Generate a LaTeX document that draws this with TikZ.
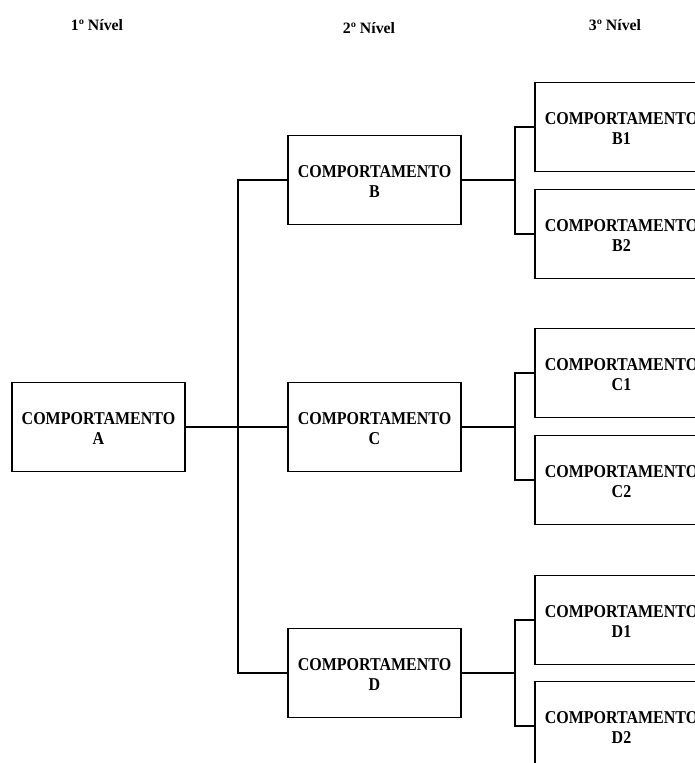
\documentclass[tikz,border=0pt]{standalone}
\usepackage{fontspec}
\usepackage{graphicx}
\setmainfont{Liberation Serif}
\newcommand{\boxtext}[2]{\raisebox{-3.3pt}[\height][\depth]{\scalebox{1}[1.13]{\fontsize{16pt}{17.7pt}\selectfont\bfseries\begin{tabular}{@{}c@{}}#1\\#2\end{tabular}}}}
\begin{document}
\begin{tikzpicture}[x=1pt,y=-1pt,
  box/.style={draw=black,line width=1.8pt,minimum width=173pt,minimum height=89pt,inner sep=0pt,align=center},
  head/.style={font=\fontsize{15.8pt}{17pt}\selectfont\bfseries,inner sep=0pt},
  conn/.style={draw=black,line width=2pt}]
\useasboundingbox (0,0) rectangle (695,763);
\clip (0,0) rectangle (695,763);
% headers
\node[head] (h1) at (97,25) {1º Nível};
\node[head] (h2) at (369,28) {2º Nível};
\node[head] (h3) at (615,25) {3º Nível};
% level 1
\node[box] (A) at (98.5,427) {\boxtext{COMPORTAMENTO}{A}};
% level 2
\node[box] (B) at (374.5,180) {\boxtext{COMPORTAMENTO}{B}};
\node[box] (C) at (374.5,427) {\boxtext{COMPORTAMENTO}{C}};
\node[box] (D) at (374.5,673) {\boxtext{COMPORTAMENTO}{D}};
% level 3
\node[box] (B1) at (621.5,127) {\boxtext{COMPORTAMENTO}{B1}};
\node[box] (B2) at (621.5,234) {\boxtext{COMPORTAMENTO}{B2}};
\node[box] (C1) at (621.5,373) {\boxtext{COMPORTAMENTO}{C1}};
\node[box] (C2) at (621.5,480) {\boxtext{COMPORTAMENTO}{C2}};
\node[box] (D1) at (621.5,620) {\boxtext{COMPORTAMENTO}{D1}};
\node[box] (D2) at (621.5,726) {\boxtext{COMPORTAMENTO}{D2}};
% junctions
\coordinate (jA) at (238,427);
\coordinate (jB) at (515,180);
\coordinate (jC) at (515,427);
\coordinate (jD) at (515,673);
% connectors
\draw[conn] (A.east) -- (jA);
\draw[conn] (B.west) -| (jA) |- (D.west);
\draw[conn] (jA |- C.west) -- (C.west);
\draw[conn] (B.east) -- (jB);
\draw[conn] (B1.west) -| (jB) |- (B2.west);
\draw[conn] (C.east) -- (jC);
\draw[conn] (C1.west) -| (jC) |- (C2.west);
\draw[conn] (D.east) -- (jD);
\draw[conn] (D1.west) -| (jD) |- (D2.west);
\end{tikzpicture}
\end{document}
